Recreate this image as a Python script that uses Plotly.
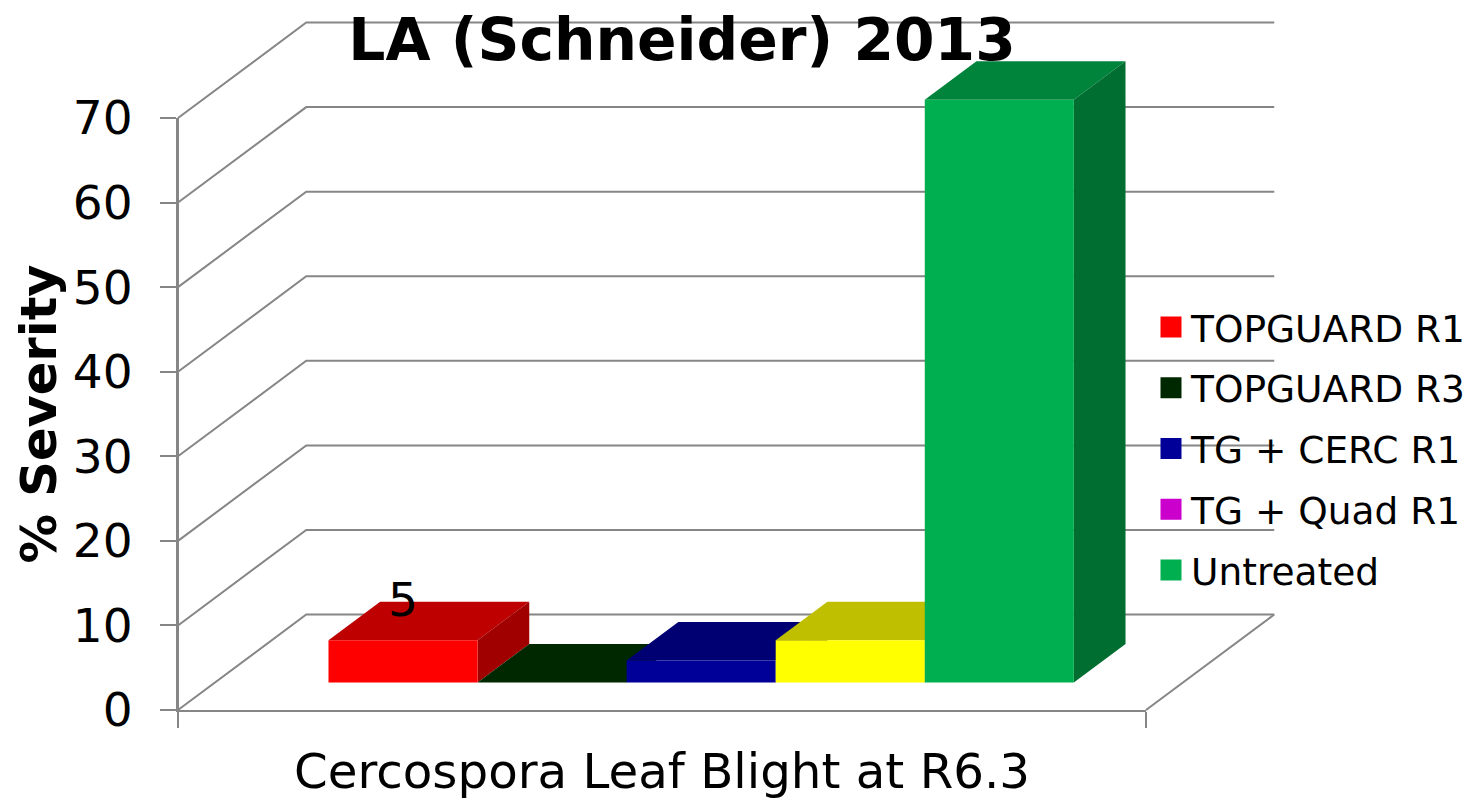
import plotly.graph_objects as go

# ---- data ----
series_names = ["TOPGUARD R1", "TOPGUARD R3", "TG + CERC R1", "TG + Quad R1", "Untreated"]
series_values = [5, 0, 2.6, 5, 68.9]
front_colors = ["#FF0000", "#002800", "#000099", "#FFFF00", "#00B050"]
top_colors = ["#BF0000", "#002800", "#000073", "#BFBF00", "#00843C"]
side_colors = ["#A00000", "#002000", "#000060", "#A0A000", "#006E31"]
legend_colors = ["#FF0000", "#002800", "#000099", "#CC00CC", "#00B050"]
value_ticks = [0, 10, 20, 30, 40, 50, 60, 70]
data_labels = {0: "5"}
category_label = "Cercospora Leaf Blight at R6.3"
value_title = "% Severity"
chart_title = "LA (Schneider) 2013"

# ---- page geometry of the visible axes ----
W, H = 1468, 799
AX_L, AX_R, AX_T, AX_B = 178, 1146, 118, 710

# ---- oblique projection of the 3D frame onto the axes ----
SHEAR_X = 0.1325   # x-axis units per full depth
SHEAR_Y = 11.29    # value units per full depth
BAR_W = 0.154
BAR_START = 0.1173
DEPTH_NEAR = 0.288
DEPTH_FAR = 0.691
GRID = "#868686"
VMAX = value_ticks[-1]


def proj(x, value, depth):
    return x + depth * SHEAR_X, value + depth * SHEAR_Y


def poly(points, **kw):
    xy = [proj(*p) for p in points]
    return go.Scatter(x=[q[0] for q in xy], y=[q[1] for q in xy], xaxis="x2", yaxis="y2",
                      cliponaxis=False, showlegend=False, hoverinfo="skip", **kw)


def face(points, color):
    return poly(points + points[:1], mode="lines", fill="toself", fillcolor=color,
                line=dict(width=0, color=color))


fig = go.Figure()

# keeps the visible axes alive: runs along the value axis
fig.add_trace(go.Scatter(x=[0 for _ in value_ticks], y=value_ticks, xaxis="x", yaxis="y", mode="lines",
                         line=dict(color=GRID, width=2), showlegend=False, hoverinfo="skip"))

# walls and floor
for v in value_ticks:
    fig.add_trace(poly([(0, v, 0), (0, v, 1), (1, v, 1)], mode="lines",
                       line=dict(color=GRID, width=2)))
fig.add_trace(poly([(1, 0, 0), (1, 0, 1)], mode="lines", line=dict(color=GRID, width=2)))

# bars, painted left to right
for i, val in enumerate(series_values):
    x0 = BAR_START + i * BAR_W
    x1 = x0 + BAR_W
    fig.add_trace(face([(x0, val, DEPTH_NEAR), (x1, val, DEPTH_NEAR), (x1, val, DEPTH_FAR), (x0, val, DEPTH_FAR)], top_colors[i]))
    fig.add_trace(face([(x1, 0, DEPTH_NEAR), (x1, val, DEPTH_NEAR), (x1, val, DEPTH_FAR), (x1, 0, DEPTH_FAR)], side_colors[i]))
    fig.add_trace(face([(x0, 0, DEPTH_NEAR), (x1, 0, DEPTH_NEAR), (x1, val, DEPTH_NEAR), (x0, val, DEPTH_NEAR)], front_colors[i]))

# legend entries
for name, color in zip(series_names, legend_colors):
    fig.add_trace(go.Scatter(x=[None], y=[None], xaxis="x2", yaxis="y2", mode="markers", name=name,
                             legendgroup=name,
                             marker=dict(symbol="square", size=16, color=color,
                                         line=dict(width=5, color=color))))

annotations = []
for i, text in data_labels.items():
    ax, ay = proj(BAR_START + (i + 0.5) * BAR_W, series_values[i], DEPTH_NEAR)
    annotations.append(dict(x=ax, y=ay, xref="x2", yref="y2", text=text, showarrow=False,
                            yanchor="bottom", yshift=11, font=dict(size=47, color="black")))

x_per_px = 1 / (AX_R - AX_L)
v_per_px = VMAX / (AX_B - AX_T)

FONT = "DejaVu Sans"
fig.update_layout(
    width=W, height=H,
    margin=dict(l=0, r=0, t=0, b=0, autoexpand=False),
    paper_bgcolor="white", plot_bgcolor="rgba(0,0,0,0)",
    font=dict(family=FONT, color="black"),
    title=dict(text="<b>%s</b>" % chart_title, x=682 / W, xanchor="center",
               y=1 - 40 / H, yanchor="middle", font=dict(size=58.3, family=FONT, color="black")),
    xaxis=dict(domain=[AX_L / W, AX_R / W], anchor="y", range=[0, 1], tickvals=[0, 1],
               ticktext=["", ""], ticks="outside", ticklen=16,
               tickwidth=2, tickcolor=GRID, showline=True, linecolor=GRID, linewidth=2,
               showgrid=False, zeroline=False,
               title=dict(text=category_label, font=dict(size=48.3), standoff=28)),
    yaxis=dict(domain=[1 - AX_B / H, 1 - AX_T / H], anchor="x", range=[0, VMAX], tickvals=value_ticks,
               ticks="outside", ticklen=16, tickwidth=2,
               tickcolor=GRID, showline=True, linecolor=GRID, linewidth=2, showgrid=False,
               zeroline=False, tickfont=dict(size=47), ticklabelstandoff=18,
               title=dict(text="<b>%s</b>" % value_title, font=dict(size=49.5), standoff=0)),
    xaxis2=dict(domain=[0, 1], anchor="y2", visible=False,
                range=[-AX_L * x_per_px, (W - AX_L) * x_per_px]),
    yaxis2=dict(domain=[0, 1], anchor="x2", visible=False,
                range=[-(H - AX_B) * v_per_px, AX_B * v_per_px]),
    legend=dict(x=1151 / W, xanchor="left", y=1 - 296 / H, yanchor="top",
                bgcolor="rgba(0,0,0,0)", font=dict(size=37.5, color="black"),
                tracegroupgap=9, itemsizing="trace"),
    annotations=annotations,
)

fig.write_html("out.html", config={"displayModeBar": False},
               post_script="document.body.style.margin='0';")
